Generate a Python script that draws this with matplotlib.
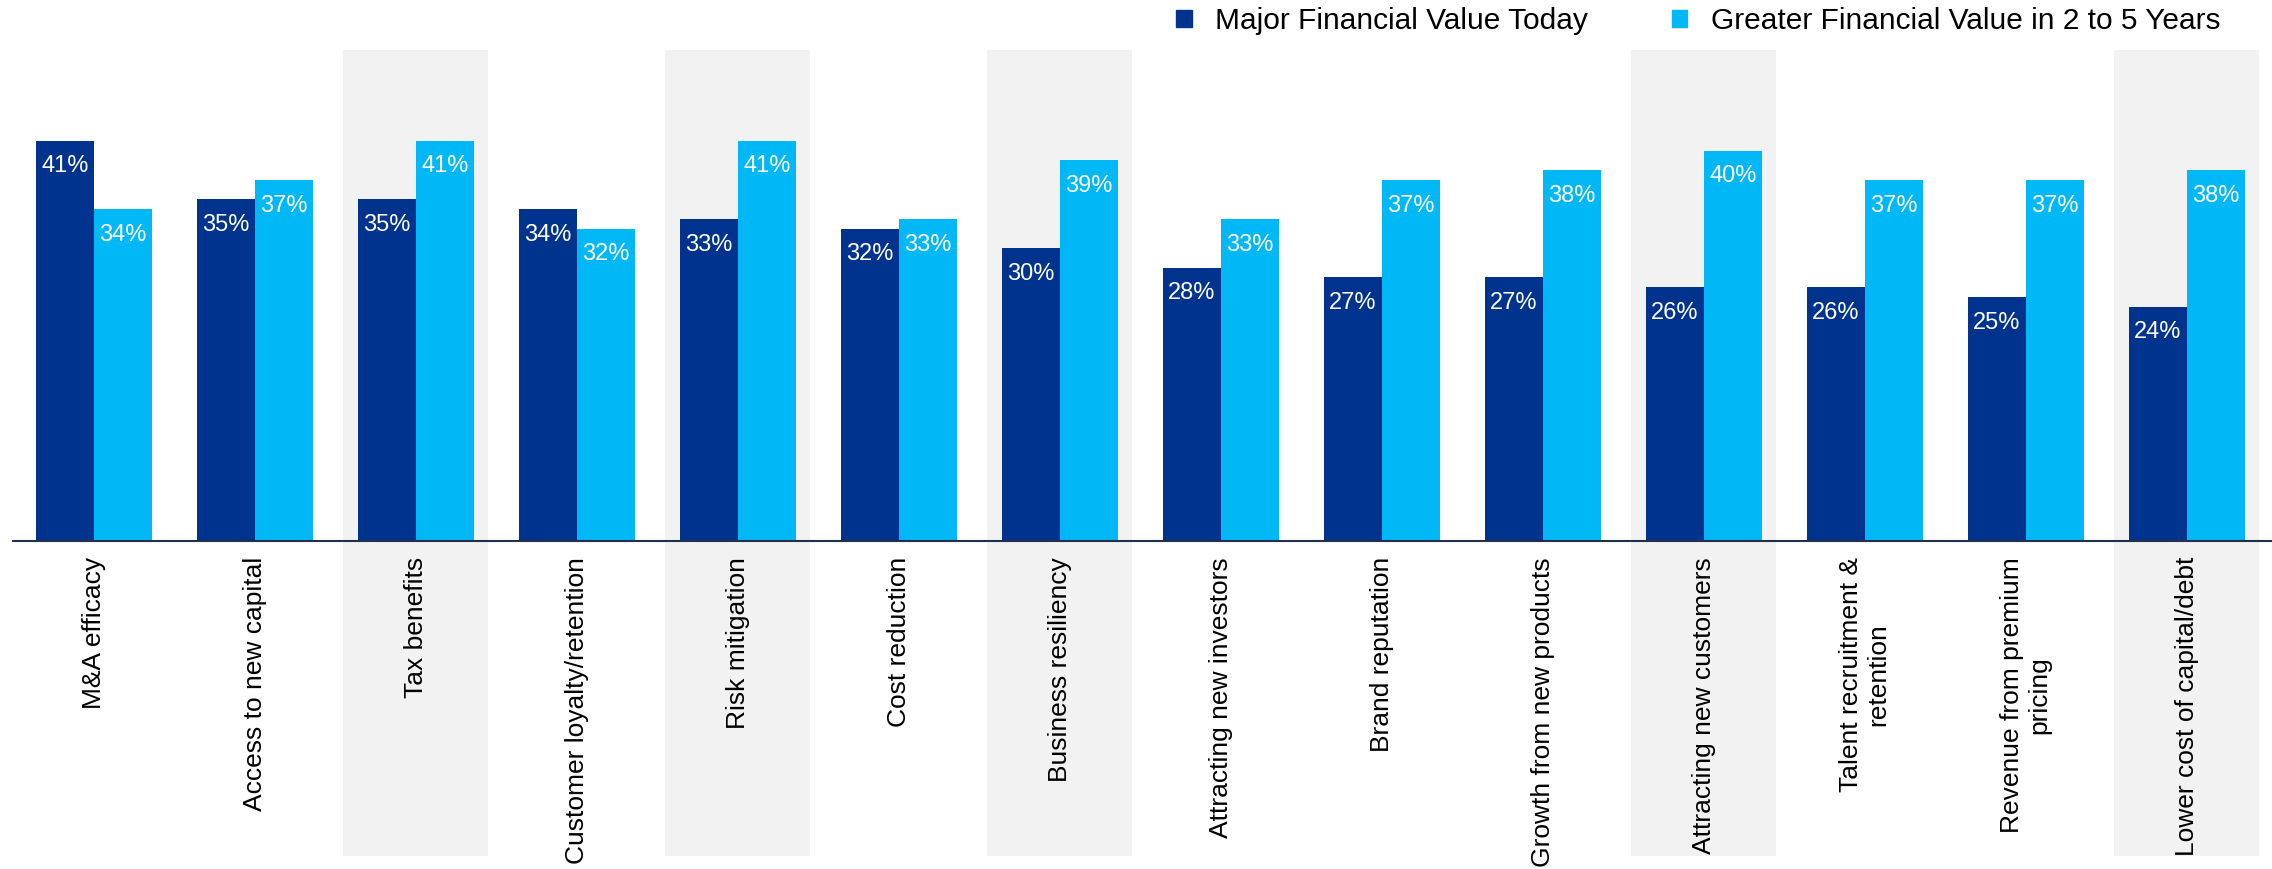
import matplotlib
matplotlib.use("Agg")
import matplotlib.pyplot as plt
from matplotlib.patches import Patch

plt.rcParams['font.family'] = ['Liberation Sans', 'DejaVu Sans']

# chart data
categories = [
    "M&A efficacy",
    "Access to new capital",
    "Tax benefits",
    "Customer loyalty/retention",
    "Risk mitigation",
    "Cost reduction",
    "Business resiliency",
    "Attracting new investors",
    "Brand reputation",
    "Growth from new products",
    "Attracting new customers",
    "Talent recruitment &\nretention",
    "Revenue from premium\npricing",
    "Lower cost of capital/debt",
]
value_today = [41, 35, 35, 34, 33, 32, 30, 28, 27, 27, 26, 26, 25, 24]
value_future = [34, 37, 41, 32, 41, 33, 39, 33, 37, 38, 40, 37, 37, 38]
highlighted = [2, 4, 6, 10, 13]
series_names = ["Major Financial Value Today", "Greater Financial Value in 2 to 5 Years"]

dark_blue = "#00338D"
light_blue = "#00B8F5"
band_gray = "#F2F2F2"

W, H = 2272, 869
fig = plt.figure(figsize=(W / 100, H / 100), dpi=100)

# axes placed in pixel terms: baseline at y=541, top at y=50
left_px, base_px, top_px = 12.8, 541, 50
ax = fig.add_axes([left_px / W, (H - base_px) / H, (W - left_px) / W, (base_px - top_px) / H])
ax.patch.set_visible(False)

x = list(range(len(categories)))
bw = 0.36

# gray bands behind highlighted categories (run down through the labels)
band_bottom = -(856 - base_px) / (base_px - top_px)
for i in highlighted:
    ax.axvspan(i - 0.45, i + 0.45, ymin=band_bottom, ymax=1, color=band_gray,
               zorder=0, clip_on=False, lw=0)

bars1 = ax.bar([v - bw / 2 for v in x], value_today, width=bw, color=dark_blue, zorder=2)
bars2 = ax.bar([v + bw / 2 for v in x], value_future, width=bw, color=light_blue, zorder=2)

for bars, vals in ((bars1, value_today), (bars2, value_future)):
    for b, v in zip(bars, vals):
        ax.annotate(f"{v}%", (b.get_x() + b.get_width() / 2, v),
                    xytext=(0, -18.5), textcoords="offset points",
                    ha="center", va="center", color="white", fontsize=17, zorder=3)

ax.set_xlim(-0.504, 13.53)
ax.set_ylim(0, 50.3)

for s in ("top", "right", "left"):
    ax.spines[s].set_visible(False)
ax.spines["bottom"].set_color("#22304f")
ax.spines["bottom"].set_linewidth(1.5)
ax.spines["bottom"].set_zorder(4)
ax.set_yticks([])
ax.set_xticks(x)
ax.set_xticklabels(categories, rotation=90, fontsize=19, va="top", ha="center")
ax.tick_params(axis="x", length=0, pad=11.5)

handles = [Patch(color=dark_blue), Patch(color=light_blue)]
fig.legend(handles, series_names, loc="center left",
           bbox_to_anchor=(1176 / W, 1 - 21 / H), ncol=2, frameon=False,
           fontsize=21.5, handlelength=0.52, handleheight=0.52,
           handletextpad=0.8, columnspacing=2.8, borderpad=0, borderaxespad=0)

fig.savefig("out.png", dpi=100)
